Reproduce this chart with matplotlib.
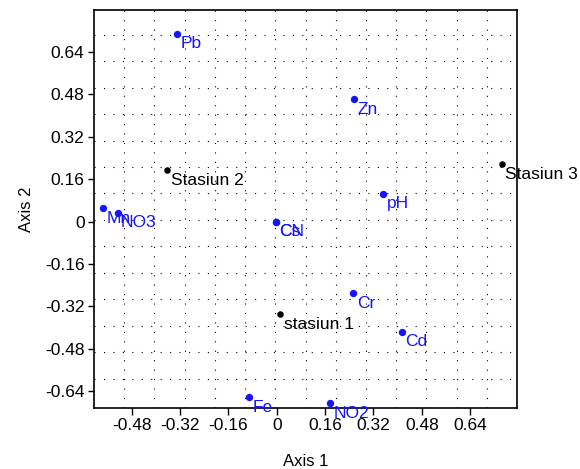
import matplotlib
matplotlib.use("Agg")
import matplotlib.pyplot as plt
import numpy as np

plt.rcParams['font.family'] = ['Liberation Sans', 'DejaVu Sans']

# Variables (blue)
var_names = ["Pb", "Zn", "pH", "Mn", "NO3", "Cs", "CN", "Cr", "Cd", "Fe", "NO2"]
var_x = [-0.331, 0.256, 0.353, -0.574, -0.527, -0.004, -0.004, 0.253, 0.414, -0.092, 0.176]
var_y = [0.709, 0.461, 0.105, 0.050, 0.033, -0.001, -0.001, -0.271, -0.416, -0.664, -0.687]

# Stations (black)
st_names = ["Stasiun 2", "Stasiun 3", "stasiun 1"]
st_x = [-0.363, 0.745, 0.011]
st_y = [0.194, 0.217, -0.350]

xticks = [-0.48, -0.32, -0.16, 0, 0.16, 0.32, 0.48, 0.64]
yticks = [-0.64, -0.48, -0.32, -0.16, 0, 0.16, 0.32, 0.48, 0.64]
xtick_labels = ["-0.48", "-0.32", "-0.16", "0", "0.16", "0.32", "0.48", "0.64"]
ytick_labels = ["-0.64", "-0.48", "-0.32", "-0.16", "0", "0.16", "0.32", "0.48", "0.64"]

fig = plt.figure(figsize=(5.8, 4.69), dpi=100)
ax = fig.add_axes([0.1626, 0.1307, 0.8919 - 0.1626, 0.9787 - 0.1307])
ax.set_xlim(-0.604, 0.796)
ax.set_ylim(-0.703, 0.799)

# dotted grid
gx = np.arange(-0.505, 0.70, 0.1)
gy = np.arange(0.706, -0.66, -0.1)
for g in gx:
    ax.axvline(g, color='black', lw=0.8, linestyle=(0, (1, 7.5)), zorder=0)
for g in gy:
    ax.axhline(g, color='black', lw=0.8, linestyle=(0, (1, 7.5)), zorder=0)

blue = '#1414ff'
ax.scatter(var_x, var_y, s=28, color=blue, zorder=3, linewidths=0)
ax.scatter(st_x, st_y, s=22, color='black', zorder=3, linewidths=0)
for n, x, y in zip(var_names, var_x, var_y):
    ax.annotate(n, (x, y), xytext=(2.5, -1.8), textcoords='offset points',
                ha='left', va='top', fontsize=12.5, color=blue)
for n, x, y in zip(st_names, st_x, st_y):
    ax.annotate(n, (x, y), xytext=(2.5, -1.8), textcoords='offset points',
                ha='left', va='top', fontsize=12.5, color='black')

ax.set_xticks(xticks)
ax.set_xticklabels(xtick_labels)
ax.set_yticks(yticks)
ax.set_yticklabels(ytick_labels)
ax.tick_params(axis='x', direction='out', length=5, width=1.0, labelsize=12.5, pad=2.5)
ax.tick_params(axis='y', direction='out', length=4.5, width=1.0, labelsize=12.5, pad=2.5)
for sp in ax.spines.values():
    sp.set_linewidth(1.2)

ax.set_xlabel("Axis 1", fontsize=12, labelpad=15)
ax.set_ylabel("Axis 2", fontsize=12, labelpad=8)

fig.savefig("out.png", dpi=100)
